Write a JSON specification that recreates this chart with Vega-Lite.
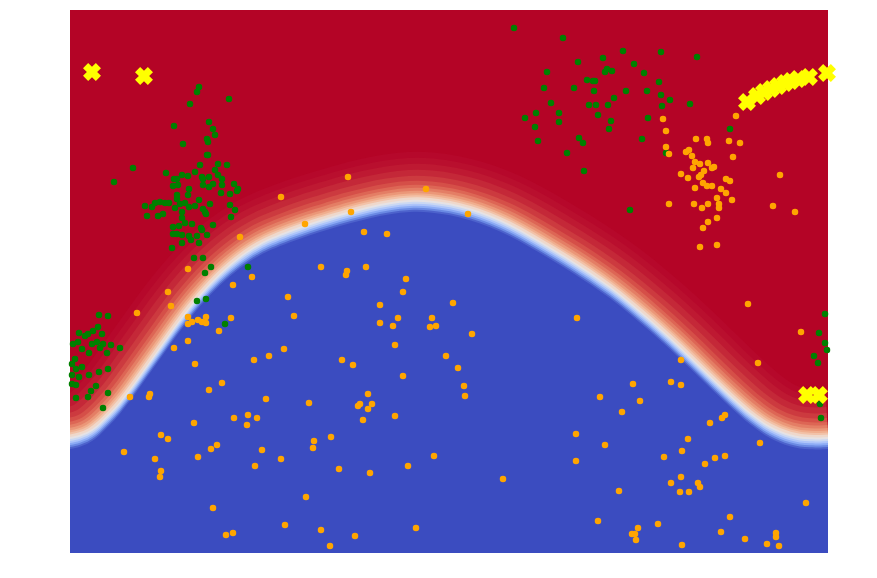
{
  "$schema": "https://vega.github.io/schema/vega-lite/v6.json",
  "width": 758,
  "height": 543,
  "autosize": "none",
  "padding": {"left": 70, "top": 10, "right": 49, "bottom": 25},
  "background": "white",
  "config": {"view": {"fill": "#b40426", "stroke": null}},
  "datasets": {
    "boundary": [
      {"x":0,"y":116},{"x":10,"y":118},{"x":20,"y":122},{"x":30,"y":130},{"x":40,"y":140},{"x":50,"y":151},{"x":60,"y":164},{"x":70,"y":178},{"x":80,"y":192},{"x":90,"y":206},{"x":100,"y":220},{"x":110,"y":234},{"x":120,"y":247},{"x":130,"y":259},{"x":140,"y":270},{"x":150,"y":280},{"x":160,"y":289},{"x":170,"y":297},{"x":180,"y":304},{"x":190,"y":310},{"x":200,"y":315},{"x":220,"y":323},{"x":240,"y":330},{"x":260,"y":336},{"x":280,"y":342},{"x":300,"y":347},{"x":320,"y":351},{"x":340,"y":353.5},{"x":360,"y":353},{"x":380,"y":350},{"x":400,"y":345},{"x":420,"y":338},{"x":440,"y":329},{"x":460,"y":318},{"x":480,"y":306},{"x":500,"y":294},{"x":520,"y":281},{"x":540,"y":267},{"x":560,"y":251},{"x":580,"y":234},{"x":600,"y":216},{"x":620,"y":197},{"x":640,"y":177},{"x":660,"y":158},{"x":680,"y":140},{"x":700,"y":126},{"x":720,"y":118},{"x":740,"y":115},{"x":758,"y":116}
    ],
    "green": [
      {"x":129,"y":466},{"x":127,"y":461},{"x":159,"y":454},{"x":120,"y":449},{"x":104,"y":427},{"x":139,"y":431},{"x":143,"y":424},{"x":145,"y":418},{"x":137,"y":414},{"x":138,"y":411},{"x":113,"y":409},{"x":137,"y":398},{"x":138,"y":398},{"x":130,"y":388},{"x":148,"y":389},{"x":157,"y":388},{"x":63,"y":385},{"x":96,"y":380},{"x":125,"y":381},{"x":112,"y":378},{"x":118,"y":377},{"x":44,"y":371},{"x":104,"y":374},{"x":107,"y":374},{"x":132,"y":376},{"x":139,"y":376},{"x":145,"y":383},{"x":148,"y":378},{"x":152,"y":374},{"x":133,"y":374},{"x":143,"y":369},{"x":139,"y":366},{"x":133,"y":368},{"x":152,"y":368},{"x":164,"y":369},{"x":168,"y":364},{"x":103,"y":367},{"x":108,"y":368},{"x":119,"y":364},
      {"x":107,"y":358},{"x":118,"y":358},{"x":151,"y":360},{"x":160,"y":359},{"x":167,"y":362},{"x":75,"y":347},{"x":82,"y":346},{"x":85,"y":350},{"x":90,"y":351},{"x":95,"y":350},{"x":99,"y":350},{"x":107,"y":354},{"x":105,"y":345},{"x":110,"y":349},{"x":115,"y":350},{"x":119,"y":346},{"x":125,"y":347},{"x":129,"y":353},{"x":133,"y":344},{"x":135,"y":341},{"x":136,"y":339},{"x":140,"y":349},{"x":160,"y":348},{"x":165,"y":343},{"x":161,"y":336},{"x":77,"y":337},{"x":88,"y":337},{"x":93,"y":339},{"x":112,"y":341},{"x":112,"y":335},{"x":115,"y":330},{"x":122,"y":329},{"x":103,"y":326},{"x":109,"y":327},{"x":103,"y":319},{"x":107,"y":319},{"x":112,"y":318},{"x":119,"y":317},{"x":121,"y":313},{"x":127,"y":317},{"x":131,"y":325},{"x":132,"y":323},{"x":137,"y":318},{"x":143,"y":328},{"x":112,"y":310},{"x":129,"y":310},{"x":102,"y":305},{"x":124,"y":295},{"x":133,"y":295},{"x":141,"y":286},{"x":135,"y":280},{"x":178,"y":286},{"x":127,"y":252},{"x":136,"y":254},{"x":155,"y":229},
      {"x":29,"y":238},{"x":38,"y":237},{"x":9,"y":220},{"x":15,"y":217},{"x":18,"y":219},{"x":23,"y":222},{"x":28,"y":226},{"x":32,"y":219},{"x":3,"y":209},{"x":8,"y":211},{"x":12,"y":204},{"x":22,"y":209},{"x":27,"y":211},{"x":33,"y":209},{"x":41,"y":208},{"x":50,"y":205},{"x":30,"y":205},{"x":19,"y":200},{"x":37,"y":200},{"x":5,"y":194},{"x":2,"y":189},{"x":12,"y":186},{"x":29,"y":181},{"x":38,"y":184},{"x":6,"y":184},
      {"x":2,"y":178},{"x":9,"y":176},{"x":19,"y":178},{"x":2,"y":169},{"x":6,"y":168},{"x":26,"y":167},{"x":21,"y":162},{"x":38,"y":160},{"x":6,"y":155},{"x":18,"y":156},{"x":33,"y":145},
      {"x":444,"y":525},{"x":493,"y":515},{"x":477,"y":481},{"x":474,"y":465},{"x":504,"y":465},{"x":481,"y":450},{"x":455,"y":435},{"x":466,"y":440},{"x":489,"y":440},{"x":489,"y":431},{"x":465,"y":426},{"x":468,"y":412},{"x":497,"y":400},
      {"x":508,"y":491},{"x":533,"y":495},{"x":553,"y":502},{"x":591,"y":501},{"x":627,"y":496},{"x":564,"y":489},{"x":537,"y":484},{"x":542,"y":482},{"x":535,"y":481},{"x":574,"y":480},{"x":517,"y":473},{"x":523,"y":472},{"x":525,"y":472},{"x":589,"y":471},{"x":524,"y":462},{"x":556,"y":462},{"x":577,"y":462},{"x":591,"y":458},{"x":600,"y":453},{"x":544,"y":455},{"x":519,"y":448},{"x":526,"y":448},{"x":538,"y":448},{"x":592,"y":447},{"x":620,"y":449},{"x":528,"y":438},{"x":541,"y":432},{"x":539,"y":424},{"x":578,"y":435},{"x":509,"y":415},{"x":513,"y":410},{"x":572,"y":414},{"x":660,"y":424},{"x":596,"y":400},{"x":514,"y":382},
      {"x":560,"y":343},{"x":755,"y":239},{"x":749,"y":220},{"x":755,"y":210},{"x":757,"y":203},{"x":744,"y":197},{"x":748,"y":190},{"x":750,"y":149},{"x":751,"y":135}
    ],
    "orange": [
      {"x":278,"y":376},{"x":356,"y":364},
      {"x":211,"y":356},{"x":235,"y":329},{"x":170,"y":316},{"x":118,"y":284},{"x":251,"y":286},{"x":182,"y":276},{"x":163,"y":268},{"x":98,"y":261},{"x":101,"y":247},{"x":218,"y":256},{"x":224,"y":237},{"x":67,"y":240},{"x":118,"y":236},{"x":118,"y":229},{"x":122,"y":231},{"x":128,"y":233},{"x":132,"y":231},{"x":136,"y":236},{"x":136,"y":230},{"x":161,"y":235},{"x":149,"y":222},{"x":118,"y":212},{"x":104,"y":205},{"x":214,"y":204},{"x":199,"y":197},{"x":184,"y":193},{"x":125,"y":189},
      {"x":60,"y":156},{"x":80,"y":159},{"x":79,"y":156},{"x":139,"y":163},{"x":152,"y":170},{"x":196,"y":154},{"x":239,"y":150},{"x":124,"y":130},{"x":164,"y":135},{"x":178,"y":138},{"x":187,"y":135},{"x":177,"y":128},{"x":91,"y":118},{"x":98,"y":114},{"x":54,"y":101},{"x":85,"y":94},{"x":141,"y":104},{"x":147,"y":108},{"x":128,"y":96},{"x":192,"y":103},{"x":211,"y":94},{"x":185,"y":87},{"x":244,"y":112},{"x":243,"y":105},{"x":91,"y":82},{"x":90,"y":76},{"x":236,"y":56},{"x":143,"y":45},{"x":215,"y":28},{"x":251,"y":23},{"x":156,"y":18},{"x":163,"y":20},
      {"x":281,"y":341},{"x":398,"y":339},{"x":294,"y":321},{"x":317,"y":319},{"x":277,"y":282},{"x":276,"y":278},{"x":296,"y":286},{"x":336,"y":274},{"x":333,"y":261},{"x":310,"y":248},{"x":383,"y":250},{"x":328,"y":235},{"x":310,"y":230},{"x":323,"y":227},{"x":362,"y":235},{"x":360,"y":226},{"x":366,"y":227},{"x":507,"y":235},{"x":402,"y":219},{"x":325,"y":208},{"x":272,"y":193},{"x":283,"y":188},{"x":376,"y":197},{"x":388,"y":185},
      {"x":333,"y":177},{"x":394,"y":167},{"x":395,"y":157},{"x":298,"y":159},{"x":288,"y":147},{"x":290,"y":149},{"x":302,"y":149},{"x":298,"y":144},{"x":293,"y":133},{"x":325,"y":137},{"x":261,"y":116},{"x":364,"y":97},{"x":338,"y":87},{"x":269,"y":84},{"x":300,"y":80},{"x":433,"y":74},{"x":285,"y":17},{"x":260,"y":7},{"x":346,"y":25},
      {"x":593,"y":434},{"x":596,"y":422},{"x":666,"y":437},{"x":626,"y":414},{"x":637,"y":414},{"x":638,"y":410},{"x":659,"y":412},{"x":670,"y":410},{"x":596,"y":406},{"x":599,"y":399},{"x":616,"y":401},{"x":619,"y":403},{"x":622,"y":397},{"x":663,"y":396},{"x":625,"y":391},{"x":630,"y":389},{"x":638,"y":390},{"x":623,"y":385},{"x":642,"y":385},{"x":644,"y":386},{"x":634,"y":382},{"x":611,"y":379},{"x":618,"y":375},{"x":629,"y":376},{"x":631,"y":378},{"x":710,"y":378},{"x":656,"y":374},{"x":660,"y":372},{"x":625,"y":365},{"x":633,"y":370},{"x":637,"y":367},{"x":642,"y":367},{"x":651,"y":364},
      {"x":656,"y":360},{"x":647,"y":355},{"x":662,"y":353},{"x":599,"y":349},{"x":624,"y":349},{"x":632,"y":345},{"x":638,"y":349},{"x":649,"y":349},{"x":649,"y":345},{"x":703,"y":347},{"x":725,"y":341},{"x":647,"y":335},{"x":638,"y":331},{"x":633,"y":325},{"x":630,"y":306},{"x":647,"y":308},{"x":678,"y":249},{"x":731,"y":221},{"x":688,"y":190},{"x":611,"y":193},
      {"x":563,"y":169},{"x":601,"y":171},{"x":611,"y":168},{"x":530,"y":156},{"x":570,"y":152},{"x":552,"y":141},{"x":506,"y":119},{"x":506,"y":92},{"x":535,"y":108},{"x":640,"y":130},{"x":652,"y":135},{"x":655,"y":138},{"x":690,"y":110},{"x":618,"y":114},{"x":612,"y":102},{"x":594,"y":96},{"x":645,"y":95},{"x":655,"y":97},{"x":635,"y":89},{"x":601,"y":70},{"x":611,"y":76},{"x":610,"y":61},{"x":619,"y":61},{"x":628,"y":70},{"x":630,"y":66},{"x":549,"y":62},{"x":736,"y":50},{"x":660,"y":36},{"x":528,"y":32},{"x":588,"y":29},{"x":568,"y":25},{"x":562,"y":19},{"x":565,"y":19},{"x":566,"y":13},{"x":651,"y":21},{"x":675,"y":14},{"x":706,"y":20},{"x":706,"y":16},{"x":697,"y":9},{"x":709,"y":7},{"x":612,"y":8}
    ],
    "yellow": [
      {"x":22,"y":481},{"x":74,"y":477},
      {"x":677,"y":451},{"x":687,"y":457},{"x":694,"y":461},{"x":701,"y":464},{"x":708,"y":467},{"x":715,"y":470},{"x":721,"y":472},{"x":728,"y":474},{"x":739,"y":476},{"x":757,"y":480},
      {"x":737,"y":158},{"x":749,"y":158}
    ]
  },
  "layer": [
    {
      "data": {"name": "boundary"},
      "encoding": {
        "x": {"field": "x", "type": "quantitative", "scale": {"domain": [0, 758], "nice": false, "zero": false}, "axis": null},
        "y": {"field": "y", "type": "quantitative", "scale": {"domain": [0, 543], "nice": false, "zero": false}, "axis": null}
      },
      "layer": [
        {"mark": {"type": "line", "interpolate": "basis", "clip": true, "strokeCap": "butt", "strokeJoin": "round", "strokeWidth": 96, "color": "#b6082b"}},
        {"mark": {"type": "line", "interpolate": "basis", "clip": true, "strokeCap": "butt", "strokeJoin": "round", "strokeWidth": 84, "color": "#b90f2e"}},
        {"mark": {"type": "line", "interpolate": "basis", "clip": true, "strokeCap": "butt", "strokeJoin": "round", "strokeWidth": 72, "color": "#be1932"}},
        {"mark": {"type": "line", "interpolate": "basis", "clip": true, "strokeCap": "butt", "strokeJoin": "round", "strokeWidth": 60, "color": "#c42838"}},
        {"mark": {"type": "line", "interpolate": "basis", "clip": true, "strokeCap": "butt", "strokeJoin": "round", "strokeWidth": 48, "color": "#cc3a3f"}},
        {"mark": {"type": "line", "interpolate": "basis", "clip": true, "strokeCap": "butt", "strokeJoin": "round", "strokeWidth": 38, "color": "#d54f48"}},
        {"mark": {"type": "line", "interpolate": "basis", "clip": true, "strokeCap": "butt", "strokeJoin": "round", "strokeWidth": 30, "color": "#dd6655"}},
        {"mark": {"type": "line", "interpolate": "basis", "clip": true, "strokeCap": "butt", "strokeJoin": "round", "strokeWidth": 24, "color": "#e47e65"}},
        {"mark": {"type": "line", "interpolate": "basis", "clip": true, "strokeCap": "butt", "strokeJoin": "round", "strokeWidth": 18, "color": "#eb9778"}},
        {"mark": {"type": "line", "interpolate": "basis", "clip": true, "strokeCap": "butt", "strokeJoin": "round", "strokeWidth": 13, "color": "#f0ae8e"}},
        {"mark": {"type": "line", "interpolate": "basis", "clip": true, "strokeCap": "butt", "strokeJoin": "round", "strokeWidth": 9, "color": "#f2c2a8"}},
        {"mark": {"type": "line", "interpolate": "basis", "clip": true, "strokeCap": "butt", "strokeJoin": "round", "strokeWidth": 5, "color": "#efd8cb"}},
        {
          "encoding": {"y2": {"datum": 0}},
          "layer": [
            {"mark": {"type": "area", "interpolate": "basis", "clip": true, "yOffset": 0, "color": "#e6e2e4"}},
            {"mark": {"type": "area", "interpolate": "basis", "clip": true, "yOffset": 2, "color": "#cbd8f2"}},
            {"mark": {"type": "area", "interpolate": "basis", "clip": true, "yOffset": 4, "color": "#aec5fa"}},
            {"mark": {"type": "area", "interpolate": "basis", "clip": true, "yOffset": 6, "color": "#8cabf5"}},
            {"mark": {"type": "area", "interpolate": "basis", "clip": true, "yOffset": 8, "color": "#6a89e3"}},
            {"mark": {"type": "area", "interpolate": "basis", "clip": true, "yOffset": 10, "color": "#4d62cc"}},
            {"mark": {"type": "area", "interpolate": "basis", "clip": true, "yOffset": 12, "color": "#3b4cc0"}}
          ]
        }
      ]
    },
    {
      "data": {"name": "green"},
      "mark": {"type": "point", "filled": true, "size": 42, "color": "#008000", "opacity": 1, "strokeWidth": 0},
      "encoding": {
        "x": {"field": "x", "type": "quantitative", "scale": {"domain": [0, 758], "nice": false, "zero": false}, "axis": null},
        "y": {"field": "y", "type": "quantitative", "scale": {"domain": [0, 543], "nice": false, "zero": false}, "axis": null}
      }
    },
    {
      "data": {"name": "orange"},
      "mark": {"type": "point", "filled": true, "size": 42, "color": "#ffa500", "opacity": 1, "strokeWidth": 0},
      "encoding": {
        "x": {"field": "x", "type": "quantitative", "scale": {"domain": [0, 758], "nice": false, "zero": false}, "axis": null},
        "y": {"field": "y", "type": "quantitative", "scale": {"domain": [0, 543], "nice": false, "zero": false}, "axis": null}
      }
    },
    {
      "data": {"name": "yellow"},
      "mark": {"type": "point", "shape": "cross", "angle": 45, "filled": true, "size": 330, "color": "#ffff00", "opacity": 1, "strokeWidth": 0},
      "encoding": {
        "x": {"field": "x", "type": "quantitative", "scale": {"domain": [0, 758], "nice": false, "zero": false}, "axis": null},
        "y": {"field": "y", "type": "quantitative", "scale": {"domain": [0, 543], "nice": false, "zero": false}, "axis": null}
      }
    }
  ]
}
